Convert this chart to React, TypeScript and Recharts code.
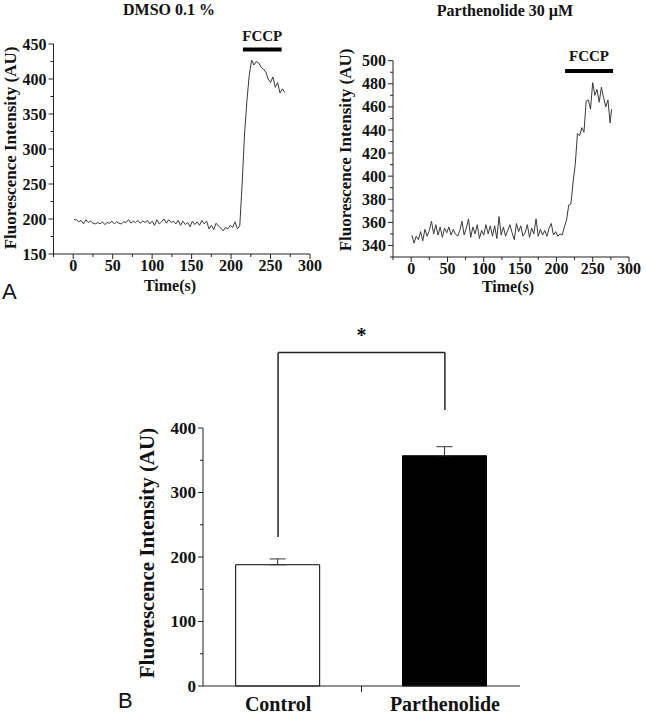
import React from 'react';
import {
  LineChart, Line, BarChart, Bar, Cell, ErrorBar, XAxis, YAxis, ReferenceLine,
} from 'recharts';

const SERIF = '"Liberation Serif", "Times New Roman", serif';
const SANS = '"Liberation Sans", Arial, sans-serif';
const INK = '#111';

// panel A, left: DMSO 0.1 %
const dmsoTime = [
  1, 4, 7, 10, 13, 16, 19, 22, 25, 28, 31, 34, 37, 40, 43, 46, 49, 52, 55, 58,
  61, 64, 67, 70, 73, 76, 79, 82, 85, 88, 91, 94, 97, 100, 103, 106, 109, 112, 115, 118,
  121, 124, 127, 130, 133, 136, 139, 142, 145, 148, 151, 154, 157, 160, 163, 166, 169, 172, 175, 178,
  181, 184, 187, 190, 193, 196, 199, 202, 205, 208, 211, 214, 217, 220, 223, 226, 229, 232, 235, 238,
  241, 244, 247, 250, 253, 256, 259, 262, 265, 268,
];
const dmsoIntensity = [
  199, 199, 196, 198, 193, 199, 195, 197, 194, 193, 195, 193, 196, 192, 195, 194, 197, 193, 196, 194,
  193, 196, 195, 199, 194, 197, 195, 198, 194, 197, 195, 198, 193, 197, 191, 199, 193, 196, 200, 194,
  199, 195, 197, 193, 198, 191, 197, 192, 195, 189, 197, 192, 196, 191, 198, 193, 197, 186, 191, 185,
  194, 190, 187, 183, 188, 186, 191, 188, 196, 186, 190, 250, 320, 368, 405, 427, 420, 425, 423, 417,
  414, 410, 400, 395, 403, 388, 395, 380, 386, 381,
];

// panel A, right: Parthenolide 30 µM
const ptlTime = [
  1, 4, 7, 10, 13, 16, 19, 22, 25, 28, 31, 34, 37, 40, 43, 46, 49, 52, 55, 58,
  61, 64, 67, 70, 73, 76, 79, 82, 85, 88, 91, 94, 97, 100, 103, 106, 109, 112, 115, 118,
  121, 124, 127, 130, 133, 136, 139, 142, 145, 148, 151, 154, 157, 160, 163, 166, 169, 172, 175, 178,
  181, 184, 187, 190, 193, 196, 199, 202, 205, 208, 211, 214, 217, 220, 223, 226, 229, 232, 235, 238,
  241, 244, 247, 250, 253, 256, 259, 262, 265, 268, 271, 274, 276,
];
const ptlIntensity = [
  349, 342, 348, 345, 352, 344, 354, 348, 353, 361, 350, 358, 349, 356, 347, 355, 351, 356, 349, 354,
  350, 348, 353, 361, 349, 355, 363, 347, 356, 350, 358, 346, 353, 349, 358, 350, 357, 348, 357, 346,
  365, 349, 356, 348, 353, 358, 351, 345, 359, 352, 357, 348, 351, 358, 347, 355, 350, 363, 348, 354,
  349, 353, 348, 355, 359, 349, 352, 348, 350, 349, 356, 362, 375, 376, 395, 410, 437, 435, 442, 438,
  465, 466, 458, 481, 470, 475, 464, 477, 468, 460, 466, 446, 458,
];

const timeTicks = [-25, 0, 25, 50, 75, 100, 125, 150, 175, 200, 225, 250, 275, 300];
const dmsoTicks = [150, 175, 200, 225, 250, 275, 300, 325, 350, 375, 400, 425, 450];
const ptlTicks = [330, 340, 350, 360, 370, 380, 390, 400, 410, 420, 430, 440, 450, 460, 470, 480, 490, 500];

// FCCP addition bars: [start, end] in seconds, and height in AU
const fccpDmso = [215, 264];
const fccpDmsoLevel = 442;
const fccpPtl = [212, 278];
const fccpPtlLevel = 491;

// panel B
const groups = ['Control', 'Parthenolide'];
const groupMeans = [188, 357];
const groupErr = [9, 14];
const groupFill = ['#ffffff', '#000000'];
const meanTicks = [0, 50, 100, 150, 200, 250, 300, 350, 400];
const bracketFeet = [231, 428];
const bracketTop = 517;

const dmsoData = dmsoTime.map((t, i) => ({ t, v: dmsoIntensity[i] }));
const ptlData = ptlTime.map((t, i) => ({ t, v: ptlIntensity[i] }));
const barData = groups.map((name, i) => ({
  pos: i + 1, name, mean: groupMeans[i], err: [0, groupErr[i]],
}));

const txt = { fontFamily: SERIF, fontWeight: 'bold' as const, fill: INK };

const makeYTick = (major: number, size: number) => (p: any) => {
  const { x, y, payload } = p;
  const isMajor = payload.value % major === 0;
  return (
    <g>
      <line x1={x} x2={x - (isMajor ? 5 : 3)} y1={y} y2={y} stroke="#222" />
      {isMajor && (
        <text x={x - 7} y={y} dy="0.35em" textAnchor="end" fontSize={size} {...txt}>
          {payload.value}
        </text>
      )}
    </g>
  );
};

const timeTick = (p: any) => {
  const { x, y, payload } = p;
  const isMajor = payload.value % 50 === 0;
  return (
    <g>
      <line x1={x} x2={x} y1={y} y2={y + (isMajor ? 5 : 3)} stroke="#222" />
      {isMajor && (
        <text x={x} y={y + 17} textAnchor="middle" fontSize={16} {...txt}>
          {payload.value}
        </text>
      )}
    </g>
  );
};

const groupTick = (p: any) => {
  const { x, y, payload } = p;
  if (payload.value === 1.5) {
    return <line x1={x} x2={x} y1={y} y2={y + 6} stroke="#222" />;
  }
  return (
    <text x={x} y={y + 25} textAnchor="middle" fontSize={20} {...txt}>
      {groups[payload.value - 1]}
    </text>
  );
};

const App = () => {
  return (
    <div style={{ position: 'absolute', left: 0, top: 0, width: 646, height: 716, background: '#fff', overflow: 'hidden' }}>
      <div style={{ position: 'absolute', left: 0, top: 300 }}>
        <BarChart width={646} height={416} data={barData} margin={{ top: 128, right: 126, bottom: 0, left: 0 }}>
          <XAxis dataKey="pos" type="number" domain={[0.55, 2.45]} ticks={[1, 1.5, 2]} interval={0}
            tickSize={0} tickMargin={0} tick={groupTick} stroke="#222" />
          <YAxis type="number" domain={[0, 400]} ticks={meanTicks} interval={0} width={203}
            tickSize={0} tickMargin={0} tick={makeYTick(100, 17)} stroke="#222" />
          <Bar dataKey="mean" barSize={84} stroke="#000" strokeWidth={1} isAnimationActive={false}>
            {barData.map((d, i) => (
              <Cell key={d.name} fill={groupFill[i]} />
            ))}
            <ErrorBar dataKey="err" width={8} stroke="#333" strokeWidth={1} />
          </Bar>
          <ReferenceLine ifOverflow="visible" stroke="#222" strokeWidth={1.5}
            segment={[{ x: 1, y: bracketFeet[0] }, { x: 1, y: bracketTop }]} />
          <ReferenceLine ifOverflow="visible" stroke="#222" strokeWidth={1.5}
            segment={[{ x: 2, y: bracketFeet[1] }, { x: 2, y: bracketTop }]} />
          <ReferenceLine ifOverflow="visible" stroke="#222" strokeWidth={1.5}
            segment={[{ x: 1, y: bracketTop }, { x: 2, y: bracketTop }]}
            label={{ value: '*', position: 'top', offset: 11, fontSize: 20, ...txt }} />
          <text x={147} y={253} dy="0.35em" textAnchor="middle" fontSize={21} transform="rotate(-90 147 253)" {...txt}>
            Fluorescence Intensity (AU)
          </text>
          <text x={118} y={408} fontSize={22} fontFamily={SANS} fill={INK}>B</text>
        </BarChart>
      </div>

      <div style={{ position: 'absolute', left: 0, top: 0 }}>
        <LineChart width={323} height={310} data={dmsoData} margin={{ top: 44, right: 13, bottom: 26, left: 0 }}>
          <XAxis dataKey="t" type="number" domain={[-25, 300]} ticks={timeTicks} interval={0}
            tickSize={0} tickMargin={0} tick={timeTick} stroke="#222" />
          <YAxis type="number" domain={[150, 450]} ticks={dmsoTicks} interval={0} width={53.5}
            tickSize={0} tickMargin={0} tick={makeYTick(50, 16)} stroke="#222" />
          <Line dataKey="v" stroke="#3a3a3a" strokeWidth={1} dot={false} isAnimationActive={false} />
          <ReferenceLine
            segment={[{ x: fccpDmso[0], y: fccpDmsoLevel }, { x: fccpDmso[1], y: fccpDmsoLevel }]}
            stroke="#000" strokeWidth={4}
            label={{ value: 'FCCP', position: 'top', offset: 9, fontSize: 15, ...txt }}
          />
          <text x={169} y={15} textAnchor="middle" fontSize={16} {...txt}>DMSO 0.1 %</text>
          <text x={10} y={148} dy="0.35em" textAnchor="middle" fontSize={17} transform="rotate(-90 10 148)" {...txt}>
            Fluorescence Intensity (AU)
          </text>
          <text x={170} y={291} textAnchor="middle" fontSize={16} {...txt}>Time(s)</text>
          <text x={2} y={299} fontSize={22} fontFamily={SANS} fill={INK}>A</text>
        </LineChart>
      </div>

      <div style={{ position: 'absolute', left: 323, top: 0 }}>
        <LineChart width={323} height={300} data={ptlData} margin={{ top: 60.7, right: 17, bottom: 13, left: 0 }}>
          <XAxis dataKey="t" type="number" domain={[-25, 300]} ticks={timeTicks} interval={0}
            tickSize={0} tickMargin={0} tick={timeTick} stroke="#222" />
          <YAxis type="number" domain={[330, 500]} ticks={ptlTicks} interval={0} width={70}
            tickSize={0} tickMargin={0} tick={makeYTick(20, 16)} stroke="#222" />
          <Line dataKey="v" stroke="#3a3a3a" strokeWidth={1} dot={false} isAnimationActive={false} />
          <ReferenceLine
            segment={[{ x: fccpPtl[0], y: fccpPtlLevel }, { x: fccpPtl[1], y: fccpPtlLevel }]}
            stroke="#000" strokeWidth={4}
            label={{ value: 'FCCP', position: 'top', offset: 10, fontSize: 15, ...txt }}
          />
          <text x={182} y={16} textAnchor="middle" fontSize={16} {...txt}>Parthenolide 30 µM</text>
          <text x={22} y={150} dy="0.35em" textAnchor="middle" fontSize={17} transform="rotate(-90 22 150)" {...txt}>
            Fluorescence Intensity (AU)
          </text>
          <text x={185} y={292} textAnchor="middle" fontSize={16} {...txt}>Time(s)</text>
        </LineChart>
      </div>
    </div>
  );
};

export default App;
